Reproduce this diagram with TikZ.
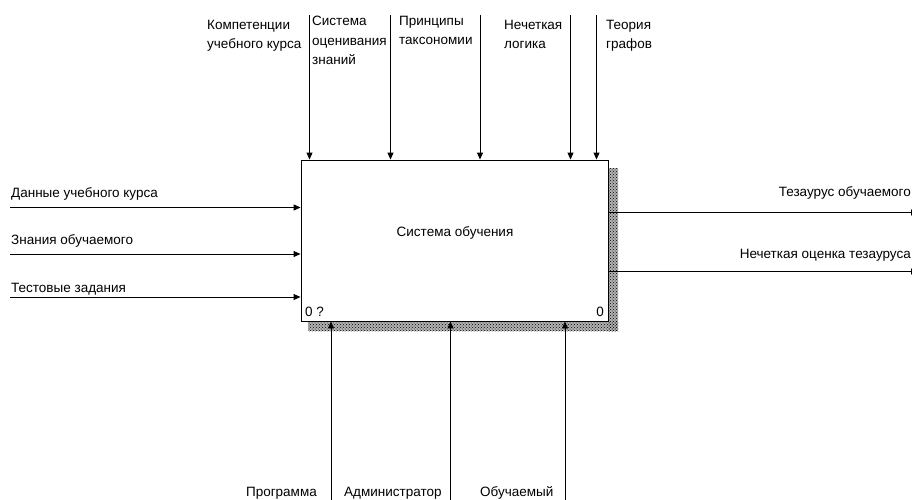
\documentclass[tikz,border=0pt]{standalone}
\usepackage{fontspec}
\setmainfont{Liberation Sans}
\usetikzlibrary{arrows.meta,patterns}
\begin{document}
\begin{tikzpicture}[x=1pt,y=-1pt,
  lbl/.style={font=\fontsize{13.5}{19.5}\selectfont, inner sep=0pt, align=left},
  lblr/.style={font=\fontsize{13.5}{19.5}\selectfont, inner sep=0pt, anchor=base east},
  lbll/.style={font=\fontsize{13.5}{19.5}\selectfont, inner sep=0pt, anchor=base west},
  arr/.style={-{Triangle[length=7pt,width=6pt]}, line width=0.9pt},
  shadowbg/.style={fill=black!30},
  shadow/.style={pattern=crosshatch dots, pattern color=black},
  box/.style={draw, line width=0.9pt, fill=white, inner sep=0pt}]
\useasboundingbox (0,0) rectangle (912,500);
% shadow
\fill[shadowbg] (608,168) rectangle (618,331);
\fill[shadowbg] (308,321) rectangle (618,331);
\fill[shadow] (608,168) rectangle (618,331);
\fill[shadow] (308,321) rectangle (618,331);
% main box
\node[box, minimum width=307pt, minimum height=161pt] (sys) at (454.5,240.5) {};
\node[lbll, anchor=base] (sysl) at (455,236) {Система обучения};
\node[lbll] (num1) at (305,316) {0 ?};
\node[lblr] (num2) at (604,316) {0};
% top (controls)
\coordinate (t1) at (309.5,15);
\coordinate (t2) at (390.5,15);
\coordinate (t3) at (480,15);
\coordinate (t4) at (570.5,15);
\coordinate (t5) at (596.5,15);
\foreach \c in {t1,t2,t3,t4,t5} \draw[arr] (\c) -- (\c |- sys.north);
\node[lbl, anchor=north west] (l1) at (207,20) {Компетенции\\учебного курса};
\node[lbl, anchor=north west] (l2) at (312,16) {Система\\оценивания\\знаний};
\node[lbl, anchor=north west] (l3) at (399,16) {Принципы\\таксономии};
\node[lbl, anchor=north west] (l4) at (504,20) {Нечеткая\\логика};
\node[lbl, anchor=north west] (l5) at (606,20) {Теория\\графов};
% left (inputs)
\coordinate (i1) at (10,207.5);
\coordinate (i2) at (10,254);
\coordinate (i3) at (10,297);
\foreach \c in {i1,i2,i3} \draw[arr] (\c) -- (\c -| sys.west);
\node[lbll] (li1) at (11,197) {Данные учебного курса};
\node[lbll] (li2) at (11,244) {Знания обучаемого};
\node[lbll] (li3) at (11,292.5) {Тестовые задания};
% right (outputs)
\coordinate (o1) at (918,212.5);
\coordinate (o2) at (918,271.5);
\draw[arr] (sys.east |- o1) -- (o1);
\draw[arr] (sys.east |- o2) -- (o2);
\node[lblr] (lo1) at (911,196.5) {Тезаурус обучаемого};
\node[lblr] (lo2) at (911,258) {Нечеткая оценка тезауруса};
% bottom (mechanisms)
\coordinate (m1) at (331,505);
\coordinate (m2) at (450.5,505);
\coordinate (m3) at (565,505);
\foreach \c in {m1,m2,m3} \draw[arr] (\c) -- (\c |- sys.south);
\node[lblr] (lm1) at (317,496) {Программа};
\node[lbll] (lm2) at (344,496) {Администратор};
\node[lbll] (lm3) at (480,496.5) {Обучаемый};
\end{tikzpicture}
\end{document}
